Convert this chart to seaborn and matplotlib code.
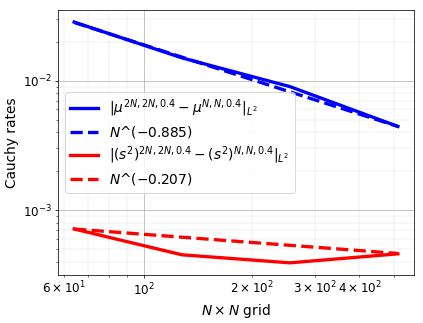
import numpy as np
import pandas as pd
import seaborn as sns
import matplotlib
matplotlib.use('Agg')
import matplotlib.pyplot as plt

grid_n = [64, 128, 256, 512]

mu_err = [0.0284, 0.0150, 0.0090, 0.00443]
mu_fit = [0.0282, 0.0152, 0.0082, 0.00443]
s2_err = [0.000714, 0.000451, 0.000391, 0.000459]
s2_fit = [0.000714, 0.000617, 0.000534, 0.000462]

mu_rate = -0.885
s2_rate = -0.207

plt.rcParams['font.family'] = ['DejaVu Sans']
dpi = 66.1
fig, ax = plt.subplots(figsize=(423 / dpi, 323 / dpi), dpi=dpi)

lw = 3.6
sns.lineplot(x=grid_n, y=mu_err, ax=ax, color='blue', lw=lw,
             label=r'$|\mu^{2N,2N,0.4}-\mu^{N,N,0.4}|_{L^2}$')
sns.lineplot(x=grid_n, y=mu_fit, ax=ax, color='blue', lw=lw, linestyle='--',
             label='$N$^(' + ('%.3f' % mu_rate).replace('-', '\u2212') + ')')
sns.lineplot(x=grid_n, y=s2_err, ax=ax, color='red', lw=lw,
             label=r'$|(s^2)^{2N,2N,0.4}-(s^2)^{N,N,0.4}|_{L^2}$')
sns.lineplot(x=grid_n, y=s2_fit, ax=ax, color='red', lw=lw, linestyle='--',
             label='$N$^(' + ('%.3f' % s2_rate).replace('-', '\u2212') + ')')

ax.set_xscale('log')
ax.set_yscale('log')
ax.grid(which='major', color='#b0b0b0', lw=0.8)
ax.grid(which='minor', color='#b0b0b0', lw=0.5, alpha=0.35)
ax.tick_params(which='both', labelsize=13)
ax.set_xlabel(r'$N\times N$ grid', fontsize=15)
ax.set_ylabel('Cauchy rates', fontsize=15)
ax.legend(loc='center left', fontsize=15, labelspacing=0.35)

fig.subplots_adjust(left=0.137, right=0.979, top=0.969, bottom=0.149)
fig.savefig('out.png', dpi=dpi)
